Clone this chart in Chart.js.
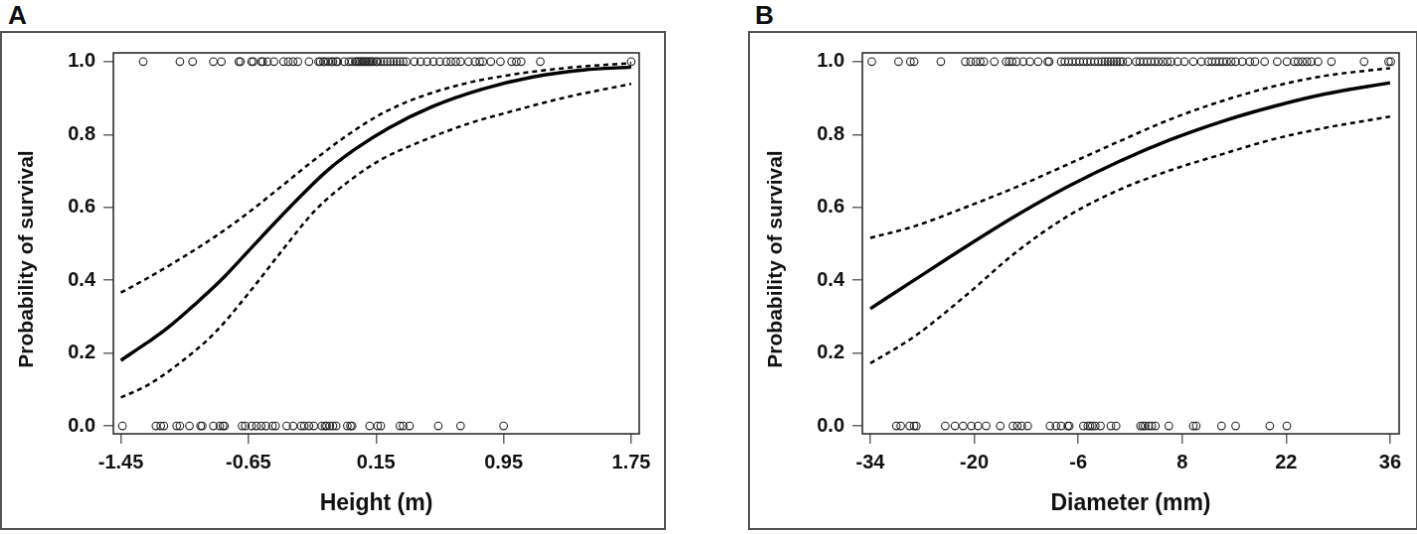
<!DOCTYPE html>
<html>
<head>
<meta charset="utf-8">
<script src="https://cdn.jsdelivr.net/npm/chart.js@4.4.1/dist/chart.umd.min.js"></script>
<style>
  html, body { margin: 0; padding: 0; background: #fff; overflow: hidden; }
  body { width: 1417px; height: 534px; position: relative; font-family: "Liberation Sans", Arial, sans-serif; }
  .tag { position: absolute; top: 1px; font-weight: bold; font-size: 26px; line-height: 28px; color: #111; }
  canvas { position: absolute; border: 2px solid #555; }
</style>
</head>
<body>
<div class="tag" style="left:8px">A</div>
<div class="tag" style="left:755px">B</div>
<canvas id="chartA" width="666" height="499" style="left:0;top:31px"></canvas>
<canvas id="chartB" width="670" height="499" style="left:748px;top:31px"></canvas>

<script>
// ---- panel A: height ----
var heightTicks = [-1.45, -0.65, 0.15, 0.95, 1.75];
var heightTickLabels = ['-1.45', '-0.65', '0.15', '0.95', '1.75'];

var heightSurvived = [-1.31, -1.08, -1.00, -0.87, -0.82, -0.71, -0.70, -0.63, -0.62, -0.57, -0.56, -0.53,
  -0.49, -0.43, -0.40, -0.37, -0.34, -0.27, -0.21, -0.20, -0.18, -0.17, -0.15, -0.13, -0.12, -0.10,
  -0.09, -0.05, -0.02, 0.00, 0.02, 0.03, 0.04, 0.05, 0.06, 0.07, 0.08, 0.09, 0.10, 0.11, 0.12, 0.13,
  0.15, 0.16, 0.18, 0.20, 0.22, 0.24, 0.26, 0.28, 0.30, 0.32, 0.34, 0.39, 0.43, 0.47, 0.51, 0.55,
  0.59, 0.62, 0.65, 0.68, 0.73, 0.77, 0.80, 0.82, 0.87, 0.93, 1.00, 1.03, 1.06, 1.18, 1.75];
var heightDied = [-1.44, -1.23, -1.20, -1.18, -1.10, -1.08, -1.02, -0.95, -0.94, -0.87, -0.83, -0.81,
  -0.80, -0.69, -0.67, -0.63, -0.60, -0.57, -0.54, -0.50, -0.48, -0.41, -0.37, -0.32, -0.30, -0.27,
  -0.24, -0.19, -0.17, -0.16, -0.14, -0.12, -0.10, -0.03, -0.01, 0.00, 0.11, 0.16, 0.18, 0.30, 0.32,
  0.36, 0.54, 0.68, 0.95];

var heightFitX = [-1.45, -1.29, -1.16, -0.99, -0.82, -0.655, -0.49, -0.32, -0.15, 0.02, 0.23, 0.50, 0.82, 1.135, 1.45, 1.75];
var heightFit = [0.18, 0.227, 0.268, 0.332, 0.401, 0.478, 0.555, 0.632, 0.703, 0.760, 0.818, 0.876, 0.925, 0.958, 0.977, 0.985];
var heightBandX = [-1.45, -1.29, -1.08, -0.865, -0.655, -0.445, -0.235, -0.02, 0.19, 0.40, 0.71, 1.03, 1.35, 1.75];
var heightUpper = [0.366, 0.404, 0.458, 0.518, 0.584, 0.657, 0.731, 0.801, 0.858, 0.899, 0.940, 0.966, 0.983, 0.996];
var heightLower = [0.078, 0.110, 0.173, 0.254, 0.361, 0.478, 0.590, 0.672, 0.733, 0.775, 0.827, 0.867, 0.903, 0.939];

// ---- panel B: diameter ----
var diameterTicks = [-34, -20, -6, 8, 22, 36];
var diameterTickLabels = ['-34', '-20', '-6', '8', '22', '36'];

var diameterSurvived = [-33.8, -30.2, -28.6, -28.1, -24.5, -21.2, -20.5, -19.8, -19.2, -18.7, -17.3,
  -15.7, -15.3, -14.9, -14.3, -13.4, -12.5, -11.4, -10.1, -9.9, -8.3, -7.8, -7.3, -6.8, -6.3, -5.8,
  -5.3, -4.8, -4.3, -3.8, -3.3, -2.8, -2.4, -2.0, -1.6, -1.2, -0.8, -0.4, 0.0, 0.7, 1.8, 2.3, 2.8,
  3.3, 3.8, 4.3, 4.8, 5.4, 6.0, 6.5, 7.4, 8.3, 9.5, 10.6, 11.5, 12.0, 12.5, 13.0, 13.5, 14.0, 14.6,
  15.2, 16.1, 17.1, 17.8, 19.1, 20.8, 22.1, 23.1, 23.6, 24.2, 24.8, 25.4, 26.3, 28.1, 32.5, 35.8, 36.1];
var diameterDied = [-30.5, -29.9, -28.7, -28.1, -27.8, -23.9, -22.6, -21.5, -20.4, -19.5, -18.4, -16.5,
  -14.8, -14.2, -13.6, -12.8, -9.8, -9.0, -8.3, -7.4, -7.2, -5.3, -4.7, -4.4, -4.1, -3.7, -3.0, -1.6,
  -0.9, 2.4, 2.7, 3.0, 3.5, 3.9, 4.4, 6.2, 9.5, 9.9, 13.3, 15.2, 19.8, 22.1];

var diameterX = [-34, -28.1, -21.2, -14.3, -7.4, -0.5, 6.45, 13.4, 20.3, 27.2, 36];
var diameterFit = [0.322, 0.400, 0.491, 0.578, 0.657, 0.726, 0.786, 0.836, 0.877, 0.911, 0.942];
var diameterUpper = [0.516, 0.548, 0.600, 0.656, 0.718, 0.781, 0.842, 0.892, 0.932, 0.961, 0.982];
var diameterLower = [0.172, 0.245, 0.357, 0.478, 0.576, 0.648, 0.702, 0.746, 0.787, 0.818, 0.849];

// ---- shared y axis ----
var probTicks = [0, 0.2, 0.4, 0.6, 0.8, 1.0];
var yTitle = 'Probability of survival';

function toPoints(xs, ys) {
  return xs.map(function (x, i) { return { x: x, y: ys[i] }; });
}
function atLevel(xs, level) {
  return xs.map(function (x) { return { x: x, y: level }; });
}

// square frame round the plotting region
var plotBox = {
  id: 'plotBox',
  afterDraw: function (chart) {
    var a = chart.chartArea, ctx = chart.ctx;
    ctx.save();
    ctx.strokeStyle = '#222';
    ctx.lineWidth = 1.5;
    ctx.strokeRect(a.left, a.top, a.right - a.left, a.bottom - a.top);
    ctx.restore();
  }
};

// rotated y title, sits a bit lower than the plot middle like the original
var sideTitle = {
  id: 'sideTitle',
  afterDraw: function (chart, args, opts) {
    var a = chart.chartArea, ctx = chart.ctx;
    ctx.save();
    ctx.translate(opts.x, (a.top + a.bottom) / 2 + opts.shift);
    ctx.rotate(-Math.PI / 2);
    ctx.font = 'bold 21px "Liberation Sans", Arial, sans-serif';
    ctx.fillStyle = '#111';
    ctx.textAlign = 'center';
    ctx.textBaseline = 'middle';
    ctx.fillText(opts.text, 0, 0);
    ctx.restore();
  }
};

function lineSet(points, dashed) {
  return {
    data: points,
    showLine: true,
    pointRadius: 0,
    borderColor: '#000',
    borderWidth: dashed ? 2.5 : 3.4,
    borderDash: dashed ? [5, 4] : [],
    cubicInterpolationMode: 'monotone',
    fill: false
  };
}
function dotSet(points) {
  return {
    data: points,
    pointRadius: 3.8,
    pointBorderWidth: 1.1,
    pointBorderColor: '#222',
    pointBackgroundColor: 'rgba(0,0,0,0)',
    showLine: false
  };
}

function buildChart(id, o) {
  var tickFont = { family: '"Liberation Sans", Arial, sans-serif', size: 20, weight: 'bold' };
  return new Chart(document.getElementById(id), {
    type: 'scatter',
    data: {
      datasets: [
        dotSet(atLevel(o.survived, 1)),
        dotSet(atLevel(o.died, 0)),
        lineSet(toPoints(o.fitX, o.fit), false),
        lineSet(toPoints(o.bandX, o.upper), true),
        lineSet(toPoints(o.bandX, o.lower), true)
      ]
    },
    options: {
      responsive: false,
      animation: false,
      layout: { padding: { top: 15, right: o.padRight, bottom: 0, left: 0 } },
      plugins: {
        legend: { display: false },
        tooltip: { enabled: false },
        sideTitle: { text: yTitle, x: o.titleX, shift: 16 }
      },
      scales: {
        x: {
          type: 'linear',
          min: o.xMin,
          max: o.xMax,
          afterBuildTicks: function (s) { s.ticks = o.xTicks.map(function (v) { return { value: v }; }); },
          afterFit: function (s) { s.height = 95; },
          ticks: {
            autoSkip: false, maxRotation: 0, padding: 7, color: '#111', font: tickFont,
            callback: function (v, i) { return o.xLabels[i]; }
          },
          grid: { drawOnChartArea: false, drawTicks: true, tickLength: 10, color: '#666', lineWidth: 1.5 },
          border: { display: false },
          title: {
            display: true, text: o.xTitle, color: '#111',
            font: { family: '"Liberation Sans", Arial, sans-serif', size: 23, weight: 'bold' },
            padding: { top: 4, bottom: 11 }
          }
        },
        y: {
          type: 'linear',
          min: -0.0215,
          max: 1.024,
          afterBuildTicks: function (s) { s.ticks = probTicks.map(function (v) { return { value: v }; }); },
          afterFit: function (s) { s.width = o.yWidth; },
          ticks: {
            autoSkip: false, padding: 8, color: '#111', font: tickFont,
            callback: function (v) { return Number(v).toFixed(1); }
          },
          grid: { drawOnChartArea: false, drawTicks: true, tickLength: 10, color: '#666', lineWidth: 1.5 },
          border: { display: false }
        }
      }
    },
    plugins: [plotBox, sideTitle]
  });
}

buildChart('chartA', {
  survived: heightSurvived, died: heightDied,
  fitX: heightFitX, fit: heightFit,
  bandX: heightBandX, upper: heightUpper, lower: heightLower,
  xMin: -1.497, xMax: 1.80, xTicks: heightTicks, xLabels: heightTickLabels,
  xTitle: 'Height (m)', yWidth: 112, padRight: 25, titleX: 25
});

buildChart('chartB', {
  survived: diameterSurvived, died: diameterDied,
  fitX: diameterX, fit: diameterFit,
  bandX: diameterX, upper: diameterUpper, lower: diameterLower,
  xMin: -35.07, xMax: 37.22, xTicks: diameterTicks, xLabels: diameterTickLabels,
  xTitle: 'Diameter (mm)', yWidth: 113, padRight: 17, titleX: 26
});
</script>
</body>
</html>
